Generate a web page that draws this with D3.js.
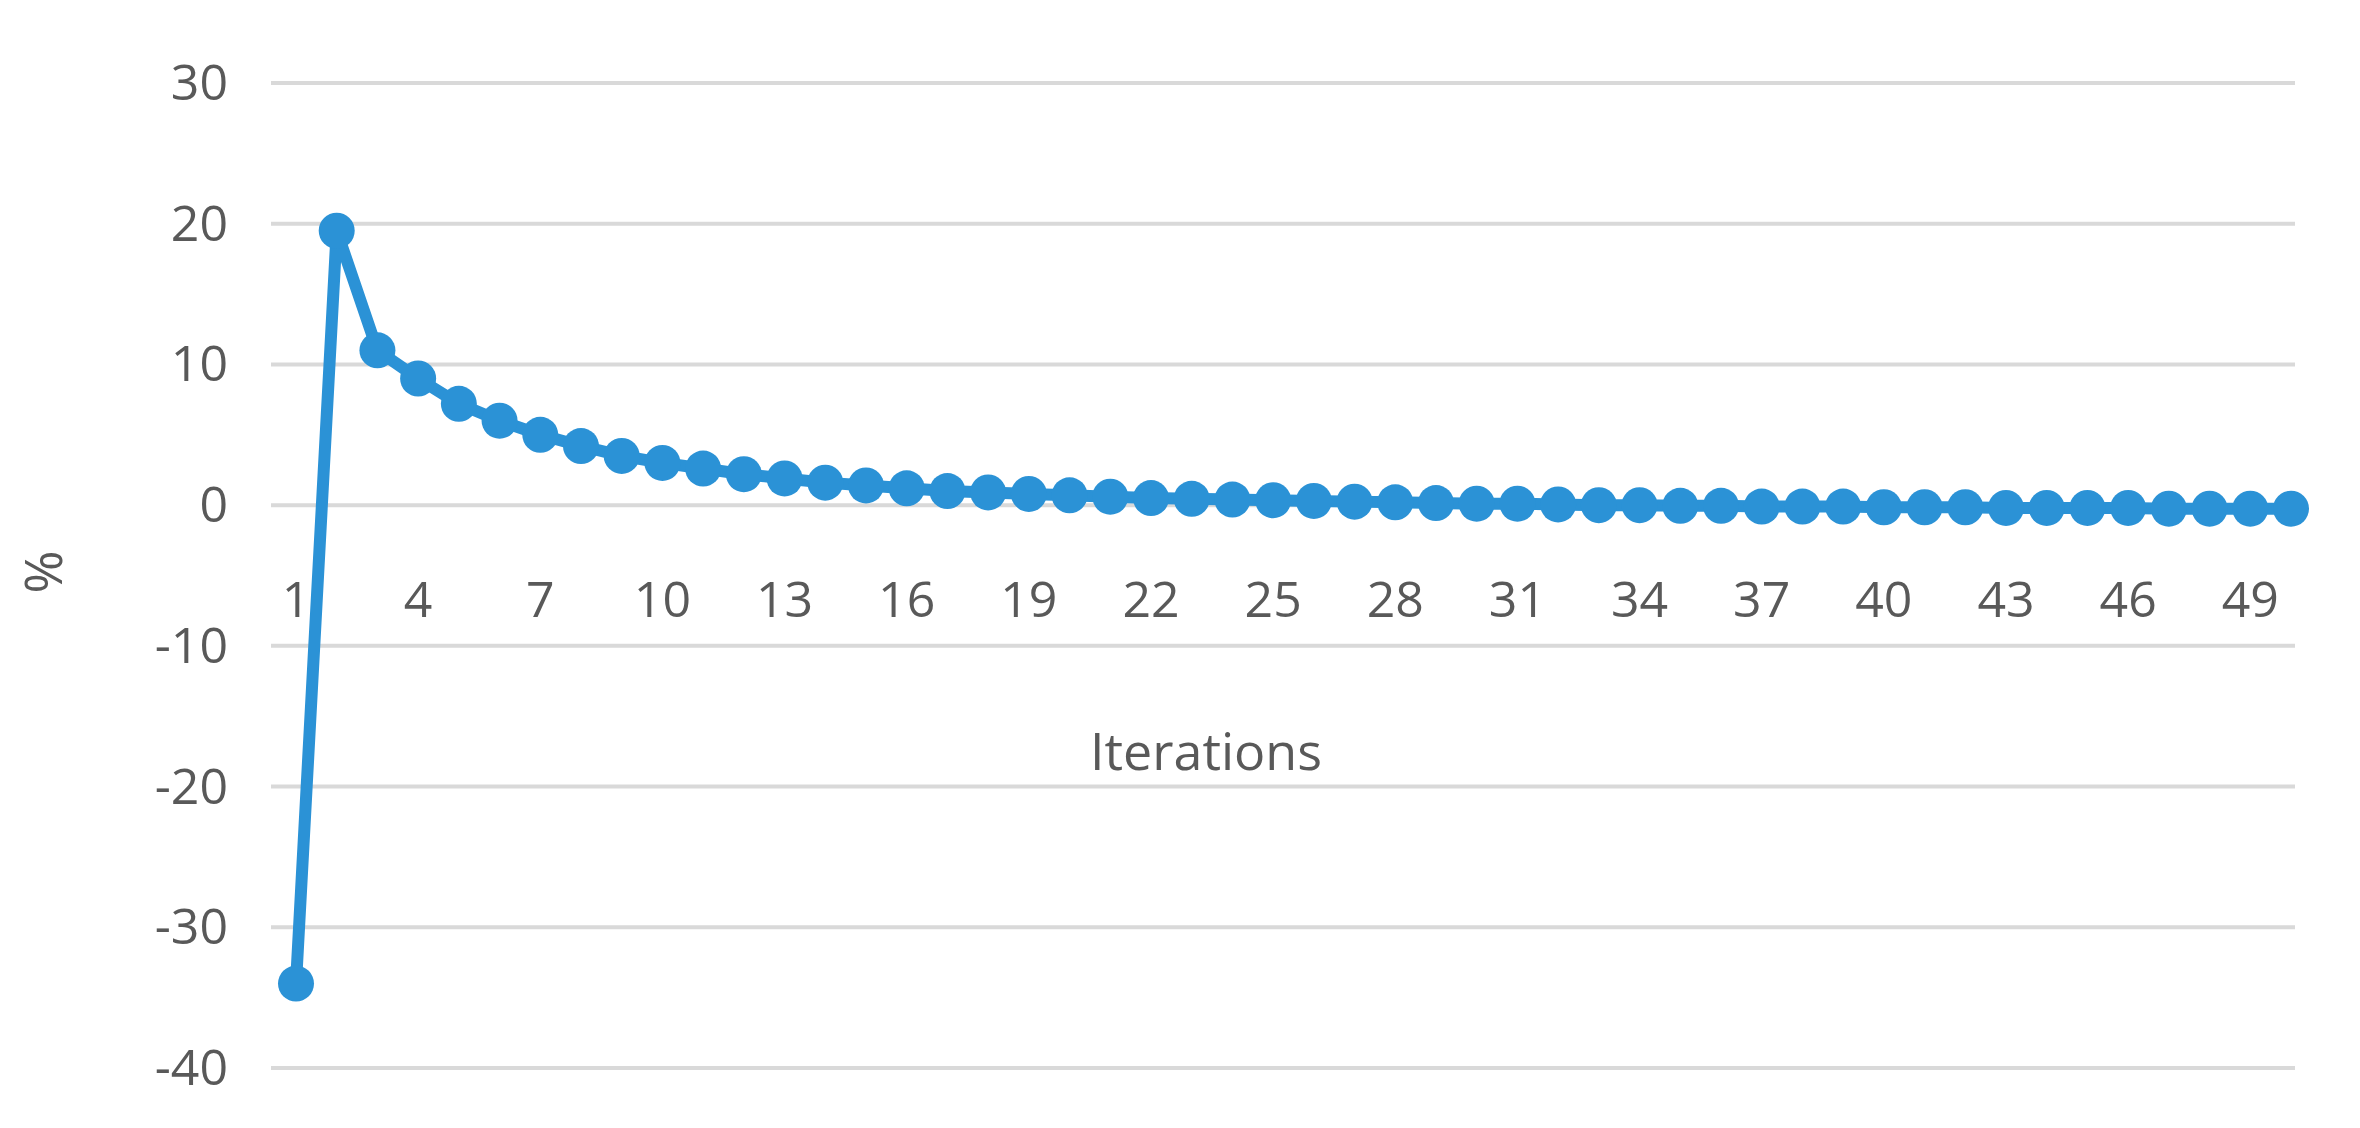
<!DOCTYPE html>
<html><head><meta charset="utf-8">
<script src="https://cdn.jsdelivr.net/npm/d3@7"></script>
<style>body{margin:0;background:#fff}text{font-family:"Open Sans",sans-serif;fill:#595959}</style>
</head><body>
<svg id="chart" width="2360" height="1128"></svg>
<script>
// iteration values
var iterations = d3.range(1, 51);
var percent = [-34, 19.5, 11, 9, 7.2, 6, 5, 4.2, 3.5, 3, 2.6, 2.2, 1.9, 1.6, 1.4, 1.2, 1.0, 0.9, 0.8, 0.7,
    0.6, 0.5, 0.45, 0.4, 0.35, 0.3, 0.25, 0.2, 0.15, 0.1, 0.1, 0.05, 0, 0, -0.05, -0.05, -0.1, -0.1, -0.1, -0.15,
    -0.15, -0.15, -0.2, -0.2, -0.2, -0.2, -0.25, -0.25, -0.25, -0.25];
var yTicks = [30, 20, 10, 0, -10, -20, -30, -40];
var xTicks = d3.range(1, 51, 3);

var svg = d3.select("#chart");
var x = d3.scaleLinear().domain([1, 50]).range([296, 2291]);
var y = d3.scaleLinear().domain([-40, 30]).range([1068, 83]);

// grid
svg.selectAll(".grid").data(yTicks).enter().append("line")
    .attr("x1", 271).attr("x2", 2295)
    .attr("y1", d => y(d)).attr("y2", d => y(d))
    .attr("stroke", "#d9d9d9").attr("stroke-width", 4);

svg.selectAll(".ylab").data(yTicks).enter().append("text")
    .attr("x", 228).attr("y", d => y(d) + 17)
    .attr("text-anchor", "end").attr("font-size", 50).text(d => d);

// x tick labels sit below the zero line
svg.selectAll(".xlab").data(xTicks).enter().append("text")
    .attr("x", d => x(d)).attr("y", y(0) + 112)
    .attr("text-anchor", "middle").attr("font-size", 50).text(d => d);

svg.append("text").attr("x", 1206).attr("y", 770).attr("text-anchor", "middle")
    .attr("font-size", 52).text("Iterations");
svg.append("text").attr("transform", "translate(62,572) rotate(-90)")
    .attr("text-anchor", "middle").attr("font-size", 52).text("%");

var line = d3.line().x((d, i) => x(iterations[i])).y(d => y(d));
svg.append("path").datum(percent).attr("d", line)
    .attr("fill", "none").attr("stroke", "#2b92d6").attr("stroke-width", 12).attr("stroke-linejoin", "round");
svg.selectAll(".pt").data(percent).enter().append("circle")
    .attr("cx", (d, i) => x(iterations[i])).attr("cy", d => y(d)).attr("r", 18)
    .attr("fill", "#2b92d6");
</script>
</body></html>
